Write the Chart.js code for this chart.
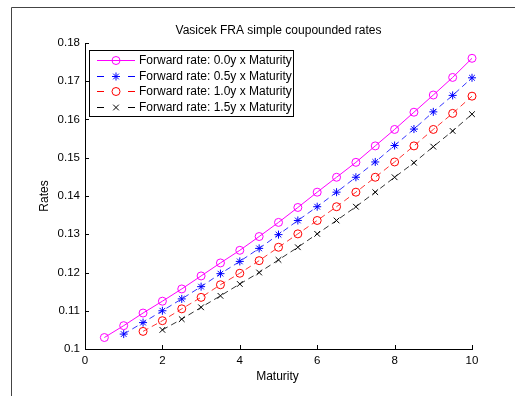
<!DOCTYPE html>
<html>
<head>
<meta charset="utf-8">
<script src="https://cdn.jsdelivr.net/npm/chart.js@4"></script>
<style>
  html, body { margin: 0; padding: 0; background: #fff; }
  canvas { display: block; }
</style>
</head>
<body>
<canvas id="fraChart" width="515" height="396"></canvas>
<script>
// Data
const maturities = [0.5, 1, 1.5, 2, 2.5, 3, 3.5, 4, 4.5, 5, 5.5, 6, 6.5, 7, 7.5, 8, 8.5, 9, 9.5, 10];
const fwd00 = [0.1030, 0.1061, 0.1094, 0.1125, 0.1157, 0.1191, 0.1225, 0.1258, 0.1294, 0.1331,
               0.1370, 0.1410, 0.1449, 0.1488, 0.1531, 0.1574, 0.1619, 0.1664, 0.1710, 0.1760];
const fwd05 = [0.1039, 0.1069, 0.1100, 0.1131, 0.1163, 0.1197, 0.1229, 0.1263, 0.1299, 0.1336,
               0.1372, 0.1410, 0.1449, 0.1489, 0.1532, 0.1575, 0.1620, 0.1663, 0.1709];
const fwd10 = [0.1046, 0.1074, 0.1105, 0.1135, 0.1168, 0.1198, 0.1231, 0.1266, 0.1301, 0.1336,
               0.1372, 0.1410, 0.1449, 0.1489, 0.1531, 0.1574, 0.1616, 0.1661];
const fwd15 = [0.1050, 0.1078, 0.1109, 0.1139, 0.1170, 0.1200, 0.1233, 0.1266, 0.1301, 0.1336,
               0.1372, 0.1410, 0.1449, 0.1487, 0.1529, 0.1570, 0.1614];
const seriesLabels = [
  "Forward rate: 0.0y x Maturity",
  "Forward rate: 0.5y x Maturity",
  "Forward rate: 1.0y x Maturity",
  "Forward rate: 1.5y x Maturity",
];
const xTicks = [0, 2, 4, 6, 8, 10];
const yTicks = [0.1, 0.11, 0.12, 0.13, 0.14, 0.15, 0.16, 0.17, 0.18];

const FONT = "Liberation Sans, Arial, sans-serif";

// pair values with the last maturities (later series start later)
function toPoints(values) {
  const offset = maturities.length - values.length;
  return values.map((v, i) => ({ x: maturities[i + offset], y: v }));
}

function makeSet(label, values, color, style, dash) {
  return {
    label: label,
    data: toPoints(values),
    borderColor: color,
    backgroundColor: "rgba(0,0,0,0)",
    borderWidth: dash.length ? 0.8 : 1,
    borderDash: dash,
    pointStyle: style,
    pointRadius: 4,
    pointBorderColor: color,
    pointBorderWidth: 1,
    pointBackgroundColor: "rgba(0,0,0,0)",
    tension: 0,
    fill: false,
    clip: false,
  };
}

const matlabLook = {
  id: "matlabLook",
  beforeDraw(chart) {
    const c = chart.ctx;
    const a = chart.chartArea;
    c.save();
    c.fillStyle = "#fff";
    c.fillRect(0, 0, chart.width, chart.height);
    // figure frame (left and top edges visible)
    c.strokeStyle = "#444";
    c.lineWidth = 1;
    c.beginPath();
    c.moveTo(11.5, chart.height);
    c.lineTo(11.5, 7.5);
    c.lineTo(chart.width, 7.5);
    c.stroke();
    // title + axis titles
    c.fillStyle = "#000";
    c.font = "12px " + FONT;
    c.textAlign = "center";
    c.textBaseline = "middle";
    const cx = (a.left + a.right) / 2;
    c.fillText("Vasicek FRA simple coupounded rates", cx, 31);
    c.fillText("Maturity", cx - 1, 377);
    c.translate(45, (a.top + a.bottom) / 2);
    c.rotate(-Math.PI / 2);
    c.fillText("Rates", 0, 0);
    c.restore();
  },
  afterDraw(chart) {
    const c = chart.ctx;
    const xs = chart.scales.x;
    const ys = chart.scales.y;
    const a = chart.chartArea;
    c.save();
    // inward ticks
    c.strokeStyle = "#000";
    c.lineWidth = 1;
    c.beginPath();
    xTicks.forEach((t) => {
      const px = Math.round(xs.getPixelForValue(t)) + 0.5;
      c.moveTo(px, a.bottom);
      c.lineTo(px, a.bottom - 4);
    });
    yTicks.forEach((t) => {
      const py = Math.round(ys.getPixelForValue(t)) + 0.5;
      c.moveTo(a.left, py);
      c.lineTo(a.left + 4, py);
    });
    c.stroke();

    // legend box
    const bx = 89.5, by = 50.5, bw = 204, bh = 66;
    c.fillStyle = "#fff";
    c.fillRect(bx, by, bw, bh);
    c.strokeStyle = "#000";
    c.strokeRect(bx, by, bw, bh);
    c.font = "12px " + FONT;
    c.textAlign = "left";
    c.textBaseline = "middle";
    chart.data.datasets.forEach((ds, i) => {
      const y = Math.round(60 + i * 15.6) + 0.5;
      c.strokeStyle = ds.borderColor;
      c.lineWidth = 1;
      c.beginPath();
      if (ds.borderDash && ds.borderDash.length) {
        c.moveTo(97, y); c.lineTo(104, y);
        c.moveTo(128, y); c.lineTo(135, y);
      } else {
        c.moveTo(97, y); c.lineTo(135, y);
      }
      c.stroke();
      c.fillStyle = "rgba(0,0,0,0)";
      Chart.helpers.drawPoint(c, {
        pointStyle: ds.pointStyle,
        radius: 4,
        borderWidth: 1,
      }, 116, y);
      c.fillStyle = "#000";
      c.fillText(ds.label, 139, y);
    });
    c.restore();
  },
};

new Chart(document.getElementById("fraChart"), {
  type: "line",
  data: {
    datasets: [
      makeSet(seriesLabels[0], fwd00, "#ff00ff", "circle", []),
      makeSet(seriesLabels[1], fwd05, "#0000ff", "star", [6, 4]),
      makeSet(seriesLabels[2], fwd10, "#ff0000", "circle", [6, 4]),
      makeSet(seriesLabels[3], fwd15, "#000000", "crossRot", [6, 4]),
    ],
  },
  options: {
    responsive: false,
    animation: false,
    devicePixelRatio: 1,
    layout: { padding: { left: 0, top: 43, right: 43, bottom: 0 } },
    plugins: {
      legend: { display: false },
      title: { display: false },
      tooltip: { enabled: false },
    },
    scales: {
      x: {
        type: "linear",
        min: 0,
        max: 10,
        afterBuildTicks(scale) {
          scale.ticks = xTicks.map((v) => ({ value: v }));
        },
        afterFit(scale) {
          scale.height = 47;
        },
        grid: { display: false, drawTicks: false },
        border: { display: true, color: "#000", width: 1 },
        ticks: {
          color: "#000",
          padding: 5,
          maxRotation: 0,
          font: { family: FONT, size: 11.5 },
        },
      },
      y: {
        type: "linear",
        min: 0.1,
        max: 0.18,
        afterBuildTicks(scale) {
          scale.ticks = yTicks.map((v) => ({ value: v }));
        },
        afterFit(scale) {
          scale.width = 85;
        },
        grid: { display: false, drawTicks: false },
        border: { display: true, color: "#000", width: 1 },
        ticks: {
          color: "#000",
          padding: 5,
          font: { family: FONT, size: 11.5 },
          callback: (v) => String(Math.round(v * 100) / 100),
        },
      },
    },
  },
  plugins: [matlabLook],
});
</script>
</body>
</html>
